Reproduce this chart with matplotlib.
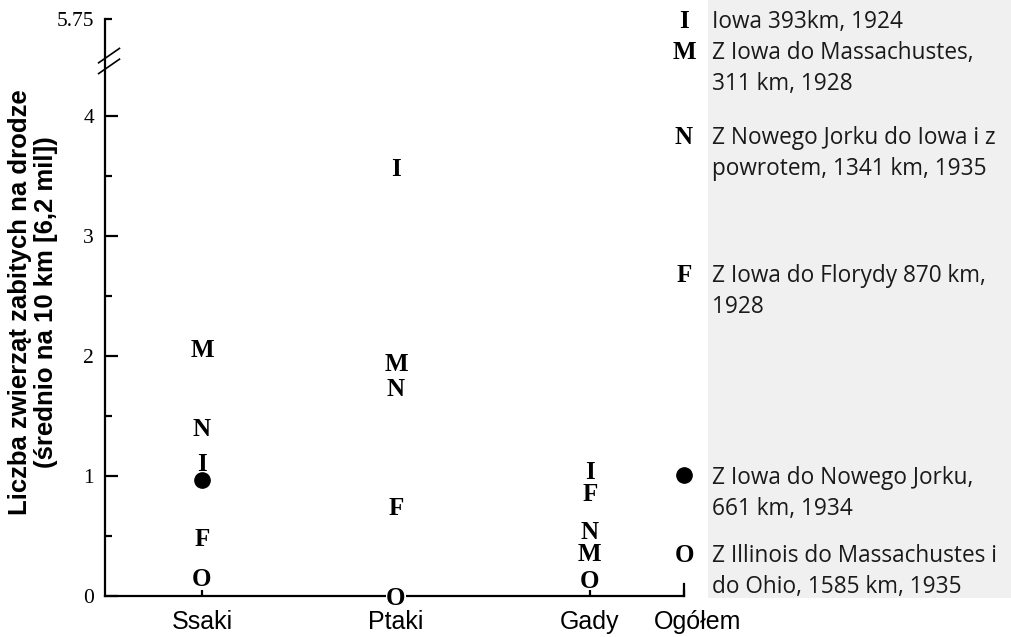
import matplotlib.pyplot as plt
import matplotlib.transforms as mtransforms
from matplotlib.patches import Rectangle
import numpy as np

# data
categories = ['Ssaki', 'Ptaki', 'Gady', 'Ogółem']
x_pos = [1, 2, 3, 3.485]
route_marks = ['I', 'M', 'N', 'F', 'dot', 'O']
route_texts = [
    'Iowa 393km, 1924',
    'Z Iowa do Massachustes,\n311 km, 1928',
    'Z Nowego Jorku do Iowa i z\npowrotem, 1341 km, 1935',
    'Z Iowa do Florydy 870 km,\n1928',
    'Z Iowa do Nowego Jorku,\n661 km, 1934',
    'Z Illinois do Massachustes i\ndo Ohio, 1585 km, 1935',
]
ssaki = [1.12, 2.07, 1.41, 0.49, 0.97, 0.16]
ptaki = [3.575, 1.95, 1.74, 0.75, np.nan, 0.0]
gady = [1.05, 0.37, 0.55, 0.87, np.nan, 0.14]
ogolem = [5.75, 4.55, 3.84, 2.69, 1.01, 0.36]

y_ticks = [0, 1, 2, 3, 4]
y_top_value = 5.75      # value shown above the axis break
y_top_pos = 4.81        # where it sits on the broken axis
y_break = 4.46


def ypos(v):
    # values above the axis break are squeezed to the top
    if v > y_top_pos:
        return y_top_pos - (y_top_value - v)
    return v


W, H = 1011, 637
fig = plt.figure(figsize=(W / 100, H / 100), dpi=100)

# grey legend panel
fig.patches.append(Rectangle((708 / W, 39 / H), 1 - 708 / W, 1 - 39 / H,
                             transform=fig.transFigure, facecolor='#f0f0f0',
                             edgecolor='none', zorder=-5))

ax = fig.add_axes([105 / W, 41 / H, (684 - 105) / W, 577 / H])
ax.patch.set_alpha(0)
ax.set_xlim(0.5, x_pos[-1])
ax.set_ylim(0, y_top_pos)

for s in ['top', 'right']:
    ax.spines[s].set_visible(False)
for s in ['left', 'bottom']:
    ax.spines[s].set_linewidth(1.6)

ax.set_yticks(y_ticks + [y_top_pos])
ax.set_yticklabels([str(t) for t in y_ticks] + ['5.75'],
                   fontfamily='Liberation Serif', fontsize=15.5)
ax.set_yticks([0.5, 1.5, 2.5, 3.5], minor=True)
ax.tick_params(axis='y', which='major', direction='in', length=9.5, width=1.6, pad=8)
ax.tick_params(axis='y', which='minor', direction='in', length=5, width=1.6)
ax.yaxis.get_major_ticks()[-1].tick1line.set_markersize(5)

ax.set_xticks(x_pos)
ax.set_xticklabels(categories, fontfamily='Liberation Sans', fontsize=18)
ax.tick_params(axis='x', direction='in', length=4, width=1.6, pad=10)
ax.axvline(x_pos[-1], ymin=0, ymax=12 / 577, color='black', lw=1.6, clip_on=False)
last = ax.get_xticklabels()[-1]
last.set_transform(last.get_transform() + mtransforms.ScaledTranslation(14 / 100, 0, fig.dpi_scale_trans))

# axis break marks
for dy in [-0.045, 0.045]:
    yb = y_break + dy
    ax.plot([-0.011, 0.025], [(yb - 0.06) / y_top_pos, (yb + 0.06) / y_top_pos],
            transform=ax.transAxes, color='black', lw=1.2, clip_on=False)

# letters / dots
for series, xp in zip([ssaki, ptaki, gady, ogolem], x_pos):
    for mark, v in zip(route_marks, series):
        if np.isnan(v):
            continue
        y = ypos(v)
        if mark == 'dot':
            ax.plot(xp, y, 'o', color='black', markersize=11, clip_on=False, zorder=5)
        else:
            ax.text(xp, y, mark, ha='center', va='center_baseline',
                    fontfamily='Liberation Serif', fontweight='bold',
                    fontsize=18, clip_on=False, zorder=5,
                    bbox=dict(facecolor='white', edgecolor='none', pad=0) if mark == 'O' and v == 0 else None)

# legend texts beside the Ogółem column, one line at a time
for txt, v in zip(route_texts, ogolem):
    for i, line in enumerate(txt.split('\n')):
        ax.annotate(line, xy=(x_pos[-1], ypos(v)), xytext=(28, -31 * i),
                    textcoords='offset pixels', ha='left', va='center_baseline',
                    fontfamily='Open Sans', fontsize=16.3, color='#1a1a1a',
                    annotation_clip=False)

fig.text(33 / W, 0.526, 'Liczba zwierząt zabitych na drodze\n(średnio na 10 km [6,2 mil])',
         rotation=90, ha='center', va='center', multialignment='center',
         fontfamily='Liberation Sans', fontweight='bold', fontsize=18.5, linespacing=1.1)

fig.savefig('out.png', dpi=100)
